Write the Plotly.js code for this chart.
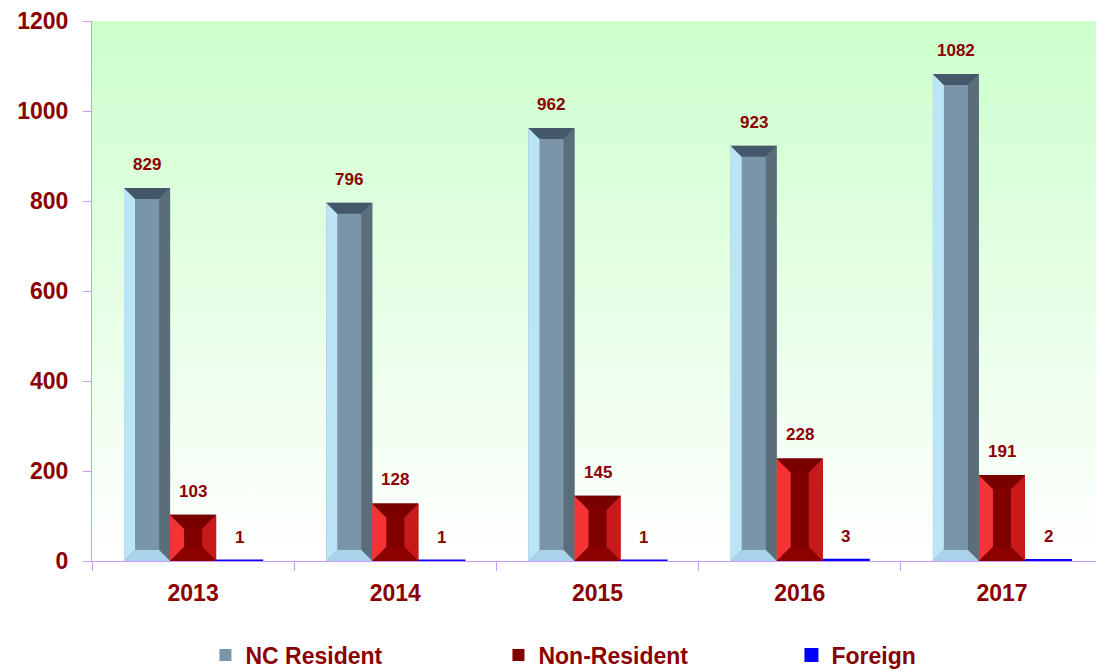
<!DOCTYPE html>
<html>
<head>
<meta charset="utf-8">
<script src="https://cdn.plot.ly/plotly-3.0.1.min.js"></script>
<style>html,body{margin:0;padding:0;background:#fff;}#chart{width:1096px;height:671px;}</style>
</head>
<body>
<div id="chart"></div>
<script>
// ---- data ----
const years = ["2013", "2014", "2015", "2016", "2017"];
const seriesNames = ["NC Resident", "Non-Resident", "Foreign"];
const ncResident = [829, 796, 962, 923, 1082];
const nonResident = [103, 128, 145, 228, 191];
const foreign = [1, 1, 1, 3, 2];

// ---- layout constants ----
const W = 1096, H = 671;
const M = {l: 92, r: 0, t: 21, b: 110, autoexpand: false};
const xRange = [-0.5, 4.465];
const yRange = [0, 1200];
const plotW = W - M.l - M.r, plotH = H - M.t - M.b;
const pxX = plotW / (xRange[1] - xRange[0]);
const pxY = plotH / (yRange[1] - yRange[0]);
const barW = 0.2277;
const DARK = '#8B0000';
const FONT = '"Liberation Sans", Arial, sans-serif';

const xIdx = years.map((_, i) => i);
const allSeries = [ncResident, nonResident, foreign];
const styles = [
  {color: '#7a95aa', bevel: 11, faces: {left: '#b9e5f7', top: '#45586a', right: '#5a6e7a', bottom: '#a9d3ea'}},
  {color: '#800000', bevel: 14, faces: {left: '#f43434', top: '#7a0000', right: '#c81a1a', bottom: '#8c0000'}},
  {color: '#0000ff', bevel: 0}
];

const traces = allSeries.map((vals, k) => ({
  type: 'bar',
  name: seriesNames[k],
  x: xIdx,
  y: vals,
  width: barW,
  offset: -1.5 * barW + k * barW,
  marker: {color: styles[k].color, line: {width: k === 2 ? 2 : 0, color: styles[k].color}},
  hoverinfo: 'x+y'
}));

// bevel faces computed from the data values
const shapes = [];
allSeries.forEach((vals, k) => {
  const st = styles[k];
  if (!st.bevel) return;
  vals.forEach((v, i) => {
    const x0 = i - 1.5 * barW + k * barW, x1 = x0 + barW;
    const y0 = 0, y1 = v;
    const dx = st.bevel / pxX;
    const dy = Math.min(st.bevel / pxY, v / 2);
    const P = pts => 'M ' + pts.map(p => p[0] + ',' + p[1]).join(' L ') + ' Z';
    const faces = [
      ['left', [[x0, y0], [x0, y1], [x0 + dx, y1 - dy], [x0 + dx, y0 + dy]]],
      ['right', [[x1, y0], [x1, y1], [x1 - dx, y1 - dy], [x1 - dx, y0 + dy]]],
      ['top', [[x0, y1], [x1, y1], [x1 - dx, y1 - dy], [x0 + dx, y1 - dy]]],
      ['bottom', [[x0, y0], [x1, y0], [x1 - dx, y0 + dy], [x0 + dx, y0 + dy]]]
    ];
    faces.forEach(([f, pts]) => shapes.push({
      type: 'path', xref: 'x', yref: 'y', path: P(pts),
      fillcolor: st.faces[f], line: {width: 0}, layer: 'above'
    }));
  });
});

const annotations = [];
allSeries.forEach((vals, k) => {
  vals.forEach((v, i) => {
    annotations.push({
      x: i - barW + k * barW, y: v, xref: 'x', yref: 'y',
      text: String(v), showarrow: false, yanchor: 'bottom', yshift: 12,
      font: {family: FONT, size: 17, color: DARK, weight: 'bold'}
    });
  });
});

const grad = 'data:image/svg+xml;utf8,' + encodeURIComponent(
  '<svg xmlns="http://www.w3.org/2000/svg" width="100" height="100" preserveAspectRatio="none">' +
  '<defs><linearGradient id="g" x1="0" y1="0" x2="0" y2="1">' +
  '<stop offset="0" stop-color="#ccffcc"/><stop offset="1" stop-color="#ffffff"/></linearGradient></defs>' +
  '<rect width="100" height="100" fill="url(#g)"/></svg>');

const layout = {
  width: W, height: H,
  margin: M,
  paper_bgcolor: '#ffffff',
  plot_bgcolor: 'rgba(0,0,0,0)',
  barmode: 'overlay',
  showlegend: true,
  font: {family: FONT, color: DARK},
  images: [{source: grad, xref: 'paper', yref: 'paper', x: 0, y: 1, sizex: 1, sizey: 1,
            sizing: 'stretch', layer: 'below', xanchor: 'left', yanchor: 'top'}],
  xaxis: {
    range: xRange, tickvals: xIdx, ticktext: years, ticks: '',
    showgrid: false, zeroline: false, showline: true, linecolor: '#cc99ff', linewidth: 1,
    ticklabelstandoff: 11,
    tickfont: {family: FONT, size: 23, color: DARK, weight: 'bold'},
    minor: {tick0: 0.5, dtick: 1, ticks: 'outside', ticklen: 9, tickcolor: '#cc99ff', tickwidth: 1, showgrid: false},
    fixedrange: true
  },
  yaxis: {
    range: yRange, tickvals: [0, 200, 400, 600, 800, 1000, 1200],
    ticks: 'outside', ticklen: 8, tickcolor: '#cc99ff',
    showgrid: false, zeroline: false, showline: true, linecolor: '#cc99ff', linewidth: 1,
    ticklabelstandoff: 10,
    tickfont: {family: FONT, size: 23, color: DARK, weight: 'bold'},
    fixedrange: true
  },
  legend: {
    orientation: 'h', x: 0.113, xanchor: 'left', y: -0.174, yanchor: 'middle',
    font: {family: FONT, size: 23, color: DARK, weight: 'bold'},
    entrywidth: 248, entrywidthmode: 'pixels', itemclick: false, itemdoubleclick: false,
    bgcolor: 'rgba(0,0,0,0)'
  },
  shapes: shapes,
  annotations: annotations
};

Plotly.newPlot('chart', traces, layout, {displayModeBar: false, staticPlot: true});
</script>
</body>
</html>
